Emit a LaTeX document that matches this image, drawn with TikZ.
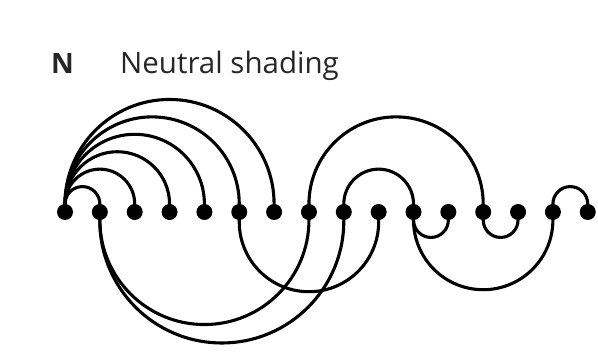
\documentclass[tikz,border=0pt]{standalone}
\usepackage{fontspec}
\setmainfont{Open Sans}
\usetikzlibrary{backgrounds}
\begin{document}
\begin{tikzpicture}[x=1pt,y=1pt,
  dot/.style={circle,fill=black,inner sep=0pt,minimum size=16pt},
  link/.style={line width=3.1pt,black},
  lbl/.style={anchor=base west,inner sep=0pt,font=\fontsize{29.5}{31}\selectfont,text=black!85}]
\useasboundingbox (0,0) rectangle (598,360);
\node[lbl,font=\fontsize{28}{30}\selectfont\bfseries] (n) at (51,287) {N};
\node[lbl] (t) at (120,287) {Neutral shading};
\foreach \i in {0,...,15} {
  \node[dot] (d\i) at ({65+34.85*\i},148) {};
}
\begin{scope}[on background layer]
% upper arcs
\foreach \j in {1,...,6} {
  \draw[link] (d0.center) -- ++(0,8) arc[start angle=180,end angle=0,radius={34.85*\j/2}] -- (d\j.center);
}
\draw[link] (d7.center) -- ++(0,8) arc[start angle=180,end angle=0,radius={34.85*5/2}] -- (d12.center);
\draw[link] (d8.center) -- ++(0,8) arc[start angle=180,end angle=0,radius={34.85*2/2}] -- (d10.center);
\draw[link] (d14.center) -- ++(0,8) arc[start angle=180,end angle=0,radius={34.85/2}] -- (d15.center);
% lower arcs
\draw[link] (d1.center) -- ++(0,-8) arc[start angle=180,end angle=360,radius={34.85*6/2}] -- (d7.center);
\draw[link] (d1.center) -- ++(0,-9) arc[start angle=180,end angle=360,radius={34.85*7/2}] -- (d8.center);
\draw[link] (d5.center) -- ++(0,-10) arc[start angle=180,end angle=360,radius={34.85*4/2}] -- (d9.center);
\draw[link] (d10.center) -- ++(0,-8) arc[start angle=180,end angle=360,radius={34.85/2}] -- (d11.center);
\draw[link] (d12.center) -- ++(0,-8) arc[start angle=180,end angle=360,radius={34.85/2}] -- (d13.center);
\draw[link] (d10.center) -- ++(0,-8) arc[start angle=180,end angle=360,radius={34.85*4/2}] -- (d14.center);
\end{scope}
\end{tikzpicture}
\end{document}
